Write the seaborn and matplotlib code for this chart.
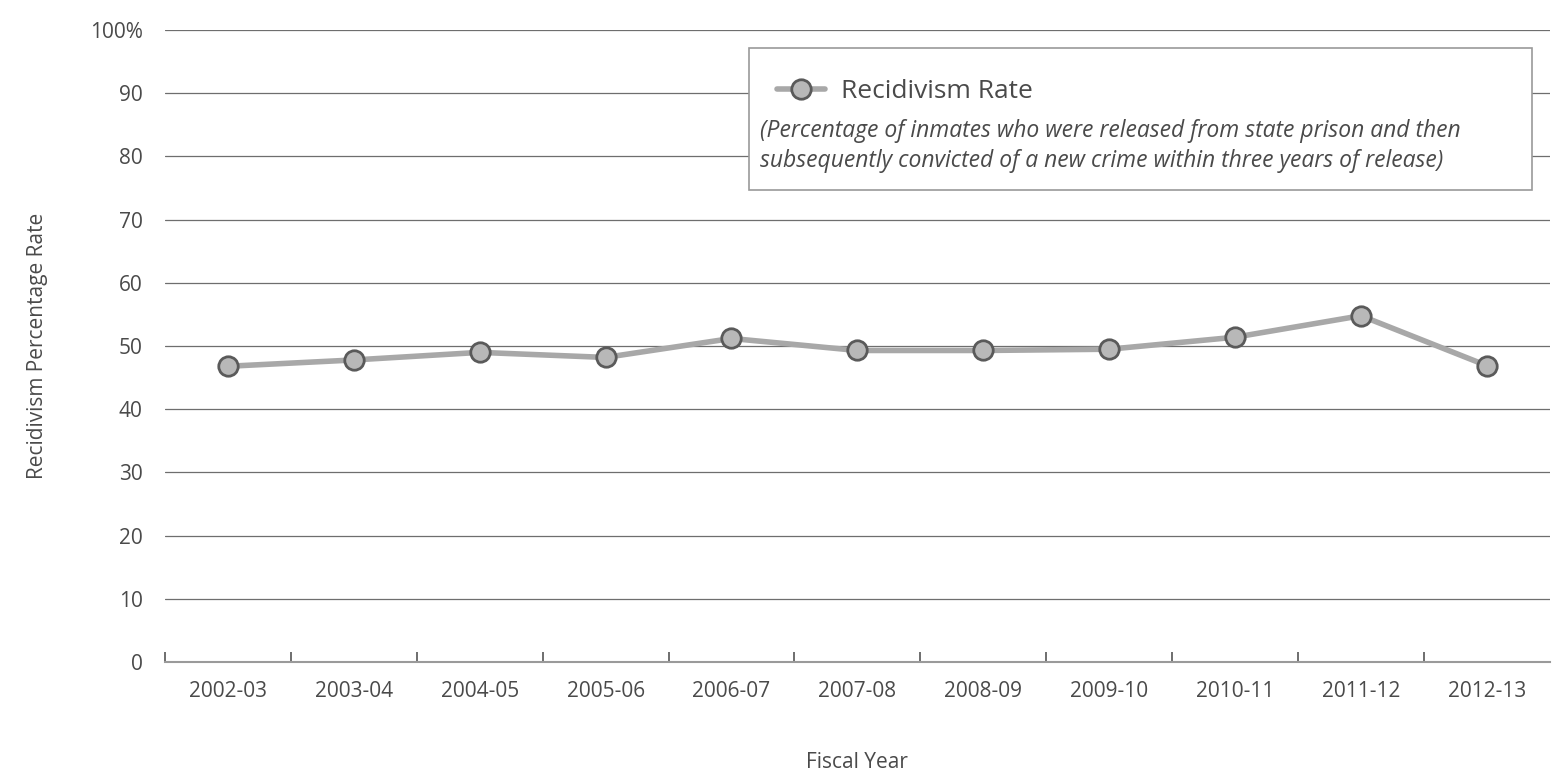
import matplotlib
matplotlib.use('Agg')
import matplotlib.pyplot as plt
from matplotlib.patches import Rectangle
from matplotlib.ticker import FixedLocator, FuncFormatter
import numpy as np
import pandas as pd
import seaborn as sns

# Data
fiscal_years = ["2002-03", "2003-04", "2004-05", "2005-06", "2006-07", "2007-08",
                "2008-09", "2009-10", "2010-11", "2011-12", "2012-13"]
recidivism_rate = [46.8, 47.8, 49.0, 48.2, 51.2, 49.3, 49.3, 49.5, 51.4, 54.8, 46.9]
y_ticks = [0, 10, 20, 30, 40, 50, 60, 70, 80, 90, 100]

df = pd.DataFrame({"Fiscal Year": fiscal_years, "Rate": recidivism_rate})

sns.set_theme(style="white")
plt.rcParams['font.family'] = ['Open Sans', 'DejaVu Sans']

text_color = "#4a4a4a"
fig = plt.figure(figsize=(15.56, 7.84), dpi=100)
ax = fig.add_axes([0.106, 0.1556, 0.89, 0.806])

sns.lineplot(
    data=df, x="Fiscal Year", y="Rate", ax=ax,
    color="#a8a8a8", linewidth=4, marker="o", markersize=14,
    markerfacecolor="#b8b8b8", markeredgecolor="#5a5a5a", markeredgewidth=2,
    label="Recidivism Rate", legend=False, zorder=3
)

ax.set_ylim(0, 100)
ax.set_xlim(-0.5, len(fiscal_years) - 0.5)
ax.yaxis.set_major_locator(FixedLocator(y_ticks))
ax.yaxis.set_major_formatter(FuncFormatter(lambda v, _: "100%" if v == 100 else f"{int(v)}"))
ax.grid(axis="y", color="#6e6e6e", linewidth=0.9)
ax.grid(axis="x", visible=False)
for side in ["top", "right", "left"]:
    ax.spines[side].set_visible(False)
ax.spines["bottom"].set_color("#9a9a9a")
ax.spines["bottom"].set_linewidth(1.5)

ax.set_xticks(np.arange(len(fiscal_years)))
ax.set_xticklabels(fiscal_years)
ax.set_xticks(np.arange(len(fiscal_years)) - 0.5, minor=True)
ax.tick_params(axis="x", which="major", length=0, pad=14, labelsize=15, labelcolor=text_color)
ax.tick_params(axis="x", which="minor", direction="in", length=7, width=1.2, color="#555555", bottom=True)
ax.tick_params(axis="y", length=0, pad=16, labelsize=15, labelcolor=text_color)

ax.set_xlabel("Fiscal Year", fontsize=15, color=text_color, labelpad=36)
ax.set_ylabel("Recidivism Percentage Rate", fontsize=15, color=text_color, labelpad=30)

# Legend box with note
ax.add_patch(Rectangle((0.422, 0.747), 0.565, 0.225, transform=ax.transAxes,
                       facecolor="white", edgecolor="#9a9a9a", linewidth=1.2, zorder=4))
handles, labels = ax.get_legend_handles_labels()
leg = ax.legend(handles, labels, loc="upper left", bbox_to_anchor=(0.425, 0.96),
                frameon=False, fontsize=19, handlelength=1.8, handletextpad=0.6,
                labelcolor=text_color)
leg.set_zorder(5)
ax.text(0.43, 0.86,
        "(Percentage of inmates who were released from state prison and then\n"
        "subsequently convicted of a new crime within three years of release)",
        transform=ax.transAxes, fontsize=16.5, style="italic", color=text_color,
        va="top", ha="left", linespacing=1.35, zorder=5)

fig.savefig("out.png", dpi=100)
